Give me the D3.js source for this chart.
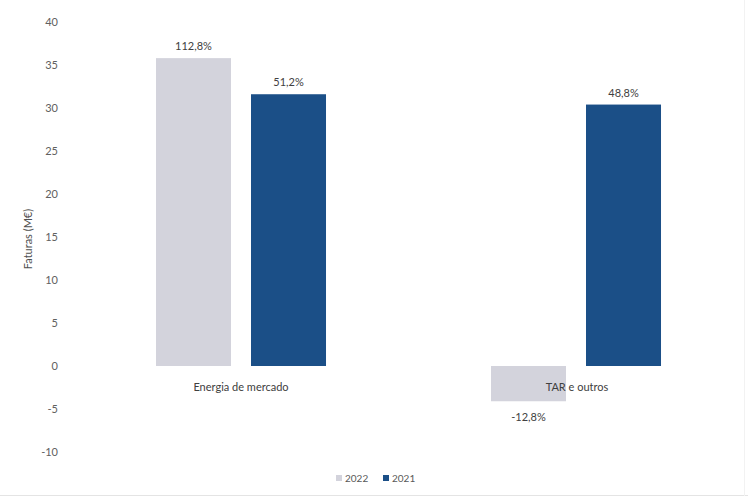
<!DOCTYPE html>
<html>
<head>
<meta charset="utf-8">
<script src="https://cdn.jsdelivr.net/npm/d3@7"></script>
<style>
  html, body { margin: 0; padding: 0; background: #ffffff; }
  svg { display: block; font-family: "Lato", "Open Sans", sans-serif; }
</style>
</head>
<body>
<svg id="chart" width="748" height="497"></svg>
<script>
// Invoice values (M€) per cost component, and year-on-year change labels
const categories = ["Energia de mercado", "TAR e outros"];
const series = ["2022", "2021"];
const values2022 = [35.8, -4.1];
const values2021 = [31.6, 30.4];
const labels2022 = ["112,8%", "-12,8%"];
const labels2021 = ["51,2%", "48,8%"];
const yTicks = [-10, -5, 0, 5, 10, 15, 20, 25, 30, 35, 40];
const yTitle = "Faturas (M€)";

const colors = { "2022": "#d3d3dc", "2021": "#1b4f87" };

const rows = categories.map((c, i) => ({
  category: c,
  bars: [
    { key: "2022", value: values2022[i], label: labels2022[i] },
    { key: "2021", value: values2021[i], label: labels2021[i] }
  ]
}));

const svg = d3.select("#chart");

const x0 = d3.scaleBand()
  .domain(categories)
  .range([73.5, 743.5])
  .paddingInner(0.4925)
  .paddingOuter(0.24625);

const x1 = d3.scaleBand()
  .domain(series)
  .range([0, x0.bandwidth()])
  .paddingInner(0.2105)
  .paddingOuter(0);

const y = d3.scaleLinear().domain([-10, 40]).range([452, 22]);

// Y axis: labels only, no line or ticks; plain hyphen for negatives
const yAxis = svg.append("g")
  .attr("transform", "translate(58,0)")
  .call(d3.axisLeft(y).tickValues(yTicks).tickFormat(d => String(d)).tickSize(0).tickPadding(0));
yAxis.select(".domain").remove();
yAxis.selectAll("text")
  .attr("fill", "#606060")
  .style("font-size", "11px")
  .style("font-family", "Lato, 'Open Sans', sans-serif");

svg.append("text")
  .attr("transform", "translate(32,239) rotate(-90)")
  .attr("text-anchor", "middle")
  .attr("fill", "#505050")
  .style("font-size", "11px")
  .text(yTitle);

// Bars
const groups = svg.selectAll("g.cat")
  .data(rows)
  .join("g")
  .attr("class", "cat")
  .attr("transform", d => `translate(${x0(d.category)},0)`);

groups.selectAll("rect")
  .data(d => d.bars)
  .join("rect")
  .attr("x", d => x1(d.key))
  .attr("width", x1.bandwidth())
  .attr("y", d => y(Math.max(0, d.value)))
  .attr("height", d => Math.abs(y(d.value) - y(0)))
  .attr("fill", d => colors[d.key]);

// Change labels above positive bars, below negative ones
groups.selectAll("text.val")
  .data(d => d.bars)
  .join("text")
  .attr("class", "val")
  .attr("x", d => x1(d.key) + x1.bandwidth() / 2)
  .attr("y", d => d.value >= 0 ? y(d.value) - 8 : y(d.value) + 20)
  .attr("text-anchor", "middle")
  .attr("fill", "#404040")
  .style("font-size", "11px")
  .text(d => d.label);

// Category labels
svg.selectAll("text.cat")
  .data(categories)
  .join("text")
  .attr("class", "cat")
  .attr("x", (d, i) => x0(d) + x0.bandwidth() / 2 + (i === 1 ? 1 : 0))
  .attr("y", y(0) + 25)
  .attr("text-anchor", "middle")
  .attr("fill", "#404040")
  .style("font-size", "11px")
  .text(d => d);

// Legend
const legend = svg.append("g").attr("transform", "translate(336,478)");
const legendItems = legend.selectAll("g")
  .data(series)
  .join("g")
  .attr("transform", (d, i) => `translate(${i * 47},0)`);
legendItems.append("rect")
  .attr("x", 0).attr("y", -3)
  .attr("width", 6).attr("height", 6)
  .attr("fill", d => colors[d]);
legendItems.append("text")
  .attr("x", 9).attr("y", 4)
  .attr("fill", "#595959")
  .style("font-size", "10px")
  .text(d => d);

// Faint frame at right and bottom edges
svg.append("line").attr("x1", 0).attr("x2", 748).attr("y1", 495.5).attr("y2", 495.5)
  .attr("stroke", "#e4e4e4");
svg.append("line").attr("x1", 744.5).attr("x2", 744.5).attr("y1", 0).attr("y2", 496)
  .attr("stroke", "#f2f2f2");
</script>
</body>
</html>
